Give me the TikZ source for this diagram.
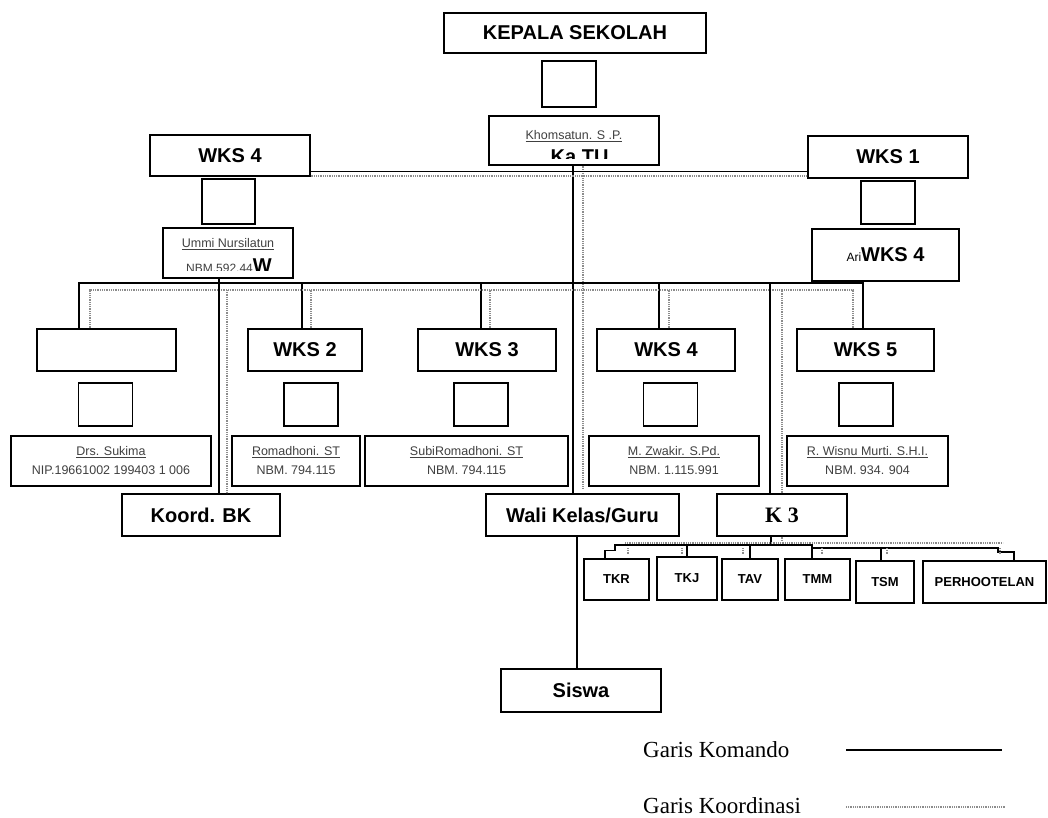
\documentclass[tikz,border=0pt]{standalone}
\usepackage{fontspec}
\setmainfont{Liberation Sans}
\newfontfamily\serifL{Liberation Serif}
\usetikzlibrary{calc}
\begin{document}
\begin{tikzpicture}[x=1pt,y=-1pt,
 box/.style={draw,line width=1.2pt,inner sep=0pt,fill=white},
 ttl/.style={font=\bfseries\fontsize{20}{22}\selectfont},
 nm/.style={font=\fontsize{12.5}{19}\selectfont,text=black!75,align=center},
 sub/.style={font=\bfseries\fontsize{13}{15}\selectfont},
 cmd/.style={line width=1.2pt},
 crd/.style={line width=2pt,black!45,dash pattern=on 1pt off 0.8pt},
]
\useasboundingbox (0,0) rectangle (1048,818);

% ---------- top ----------
\node[box,ttl,minimum width=262,minimum height=40] (kepala) at (575,33) {KEPALA SEKOLAH};
\node[box,minimum width=54,minimum height=46] (kbox) at (569,84) {};
\node[box,minimum width=170,minimum height=49] (ktu) at (574,140.5) {};
\node[nm] (ktuname) at (574,136) {\underline{Khomsatun. S .P.}};
\begin{scope}
\clip ($(ktu.south west)+(1,-7)$) rectangle ($(ktu.north east)+(-1,1)$);
\node[ttl,anchor=base] (ktutitle) at (574,164) {..Ka TU};
\end{scope}

\node[box,ttl,minimum width=160,minimum height=41] (wksA) at (230,155.5) {WKS 4};
\node[box,minimum width=53,minimum height=45] (sA) at (228.5,201.5) {};
\node[box,minimum width=130,minimum height=50] (ummi) at (228,253) {};
\node[nm] (umminame) at (228,244) {\underline{Ummi Nursilatun}};
\begin{scope}
\clip ($(ummi.south west)+(1,-8)$) rectangle ($(ummi.north east)+(-1,1)$);
\node[anchor=base,text=black!75] (ummitxt) at (229,272.5) {{\fontsize{12}{14}\selectfont NBM.592.44}{\color{black}\bfseries\fontsize{20}{22}\selectfont W}};
\end{scope}

\node[box,ttl,minimum width=160,minimum height=42] (wks1) at (888,157) {WKS 1};
\node[box,minimum width=54,minimum height=43] (s1) at (888,202.5) {};
\node[box,minimum width=147,minimum height=52] (ari) at (885.5,255) {{\fontsize{12}{14}\selectfont Ari}{\bfseries\fontsize{20}{22}\selectfont WKS 4}};

% ---------- row of WKS ----------
\node[box,minimum width=139,minimum height=42] (blank) at (106.5,350) {};
\node[box,ttl,minimum width=114,minimum height=42] (wks2) at (305,350) {WKS 2};
\node[box,ttl,minimum width=138,minimum height=42] (wks3) at (487,350) {WKS 3};
\node[box,ttl,minimum width=138,minimum height=42] (wks4b) at (666,350) {WKS 4};
\node[box,ttl,minimum width=137,minimum height=42] (wks5) at (865.5,350) {WKS 5};

\node[box,minimum width=54,minimum height=43] (sa) at (105.5,404.5) {};
\node[box,minimum width=54,minimum height=43] (sb) at (311,404.5) {};
\node[box,minimum width=54,minimum height=43] (sc) at (481,404.5) {};
\node[box,minimum width=54,minimum height=43] (sd) at (670.5,404.5) {};
\node[box,minimum width=54,minimum height=43] (se) at (866,404.5) {};

\node[box,nm,minimum width=200,minimum height=50] (n1) at (111,461) {\underline{Drs. Sukima}\\NIP.19661002 199403 1 006};
\node[box,nm,minimum width=128,minimum height=50] (n2) at (296,461) {\underline{Romadhoni. ST}\\NBM. 794.115};
\node[box,nm,minimum width=203,minimum height=50] (n3) at (466.5,461) {\underline{SubiRomadhoni. ST}\\NBM. 794.115};
\node[box,nm,minimum width=170,minimum height=50] (n4) at (674,461) {\underline{M. Zwakir. S.Pd.}\\NBM. 1.115.991};
\node[box,nm,minimum width=161,minimum height=50] (n5) at (867.5,461) {\underline{R. Wisnu Murti. S.H.I.}\\NBM. 934. 904};

\node[box,ttl,minimum width=158,minimum height=42] (koord) at (201,515) {Koord. BK};
\node[box,ttl,minimum width=193,minimum height=42] (wali) at (582.5,515) {Wali Kelas/Guru};
\node[box,minimum width=130,minimum height=42,font=\serifL\bfseries\fontsize{22}{24}\selectfont] (k3) at (782,515) {K 3};

% ---------- departments ----------
\node[box,sub,minimum width=65,minimum height=41] (tkr) at (616.5,579.5) {TKR};
\node[box,sub,minimum width=60,minimum height=43] (tkj) at (687,578.5) {TKJ};
\node[box,sub,minimum width=56,minimum height=41] (tav) at (750,579.5) {TAV};
\node[box,sub,minimum width=65,minimum height=41] (tmm) at (817.5,579.5) {TMM};
\node[box,sub,minimum width=58,minimum height=42] (tsm) at (885,582) {TSM};
\node[box,sub,minimum width=123,minimum height=42] (perh) at (984.5,582) {PERHOOTELAN};

\node[box,ttl,minimum width=160,minimum height=43] (siswa) at (581,690.5) {Siswa};

% ---------- legend ----------
\node[anchor=base west,inner sep=0pt,font=\serifL\fontsize{23}{26}\selectfont] (lg1) at (643,757) {Garis Komando};
\node[anchor=base west,inner sep=0pt,font=\serifL\fontsize{23}{26}\selectfont] (lg2) at (643,813) {Garis Koordinasi};
\coordinate (lk1) at (846,750); \coordinate (lk2) at (1002,750);
\coordinate (lc1) at (846,807); \coordinate (lc2) at (1006,807);
\draw[cmd] (lk1) -- (lk2);
\draw[crd] (lc1) -- (lc2);

% ---------- connectors ----------
% Ka TU to Wali Kelas
\draw[cmd] ([xshift=-1pt]ktu.south) -- ([xshift=-9.5pt]wali.north);
\draw[crd] ([xshift=9pt]ktu.south) -- ($(wali.north)+(0.5,-4)$);
% WKS4 -- WKS1
\draw[cmd] ([yshift=5pt]wksA.south east) -- ([yshift=7pt]wks1.south west);
\draw[crd] ([yshift=0.5pt]wksA.south east) -- ([yshift=2.5pt]wks1.south west);
% main bus
\coordinate (bL) at (79,283); \coordinate (bR) at (863,283);
\coordinate (dL) at (90,290); \coordinate (dR) at (853,290);
\draw[cmd] (blank.north -| bL) -- (bL) -- (bR) -- (ari.south -| bR);
\draw[cmd] (bR) -- (wks5.north -| bR);
\draw[cmd] ([xshift=-3pt]wks2.north) -- ([xshift=-3pt]wks2.north |- bL);
\draw[cmd] ([xshift=-6pt]wks3.north) -- ([xshift=-6pt]wks3.north |- bL);
\draw[cmd] ([xshift=-7pt]wks4b.north) -- ([xshift=-7pt]wks4b.north |- bL);
\draw[crd] (blank.north -| dL) -- (dL) -- (dR) -- (wks5.north -| dR);
\draw[crd] ([xshift=6pt]wks2.north) -- ([xshift=6pt]wks2.north |- dL);
\draw[crd] ([xshift=3pt]wks3.north) -- ([xshift=3pt]wks3.north |- dL);
\draw[crd] ([xshift=3pt]wks4b.north) -- ([xshift=3pt]wks4b.north |- dL);
% Ummi to Koord BK
\draw[cmd] ([xshift=-9pt]ummi.south) -- ([xshift=18pt]koord.north);
\draw[crd] ([xshift=26pt]koord.north |- dL) -- ([xshift=26pt]koord.north);
% bus to K3
\draw[cmd] ([xshift=-12pt]k3.north) -- ([xshift=-12pt]k3.north |- bL);
\draw[crd] (k3.north) -- (k3.north |- dL);
% Wali to Siswa
\draw[cmd] ([xshift=-5.5pt]wali.south) -- ([xshift=-4pt]siswa.north);
% K3 to departments
\coordinate (sb1) at (615,545); \coordinate (sb2) at (812,545);
\coordinate (sb3) at (812,548); \coordinate (sb4) at (998,548);
\draw[cmd] ([xshift=-11pt]k3.south) -- ++(0,9);
\draw[cmd] ([xshift=-11.5pt]tkr.north) -- ++(0,-8) -| (sb1) -- (sb2) -- (sb3) -- (sb4) -- ++(0,4) -- ++(16,0) coordinate (sb5) -- (sb5 |- perh.north);
\draw[cmd] (tkj.north) -- (tkj.north |- sb1);
\draw[cmd] (tav.north) -- (tav.north |- sb1);
\draw[cmd] ([xshift=-5.5pt]tmm.north) -- ([xshift=-5.5pt]tmm.north |- sb1);
\draw[cmd] ([xshift=-4pt]tsm.north) -- ([xshift=-4pt]tsm.north |- sb3);
\coordinate (ds1) at (625,543); \coordinate (ds2) at (1003,543);
\draw[crd,line width=1.5pt] (ds1) -- (ds2);
\draw[crd,line width=1.2pt] (k3.south) -- ++(0,5);
\foreach \xx in {628,682,743,822,887,1000} {
  \draw[crd,line width=1.2pt] (\xx,548) -- (\xx,554);
}
\end{tikzpicture}
\end{document}
